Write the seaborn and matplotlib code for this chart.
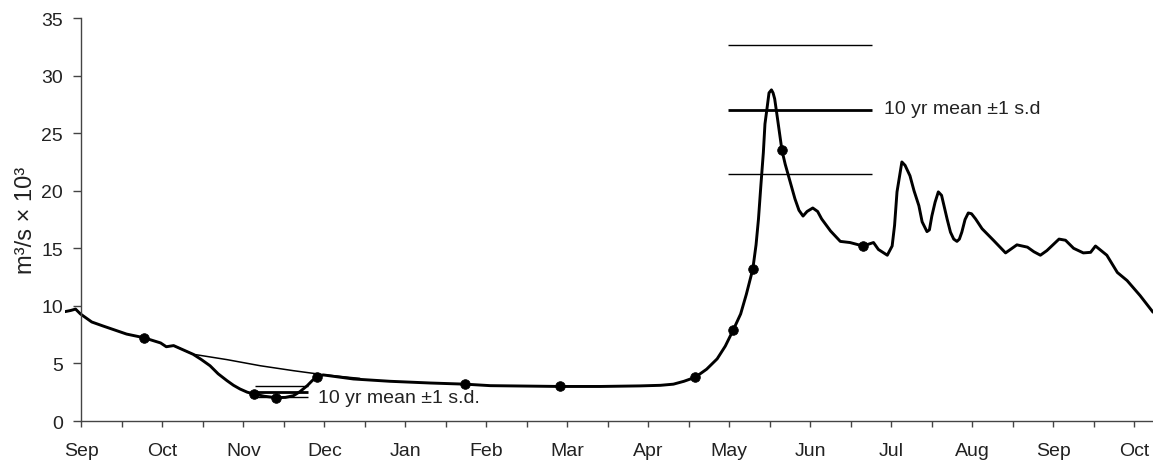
import matplotlib
matplotlib.use("Agg")
import matplotlib.pyplot as plt
import seaborn as sns
import numpy as np
import pandas as pd

# month index: 0 = Sep, 1 = Oct, ... 13 = Oct of the next year
months = [-0.20, -0.13, -0.07, -0.01, 0.13, 0.27, 0.56, 0.77, 0.98, 1.05, 1.14,
          1.38, 1.48, 1.59, 1.69, 1.80, 1.88, 1.96, 2.05, 2.13, 2.26, 2.40, 2.52,
          2.62, 2.70, 2.79, 2.85, 2.91, 2.99, 3.36, 3.81, 4.31, 4.74, 5.05, 5.91,
          6.41, 6.90, 7.15, 7.31, 7.44, 7.58, 7.72, 7.85, 7.95, 8.05, 8.14, 8.21,
          8.29, 8.33, 8.36, 8.39, 8.42, 8.44, 8.47, 8.49, 8.52, 8.54, 8.56, 8.59,
          8.65, 8.69, 8.73, 8.81, 8.86, 8.91, 8.96, 9.03, 9.09, 9.14, 9.25, 9.37,
          9.49, 9.65, 9.78, 9.84, 9.95, 10.01, 10.04, 10.07, 10.13, 10.17, 10.23,
          10.28, 10.34, 10.38, 10.44, 10.47, 10.50, 10.54, 10.58, 10.62, 10.65,
          10.69, 10.73, 10.77, 10.81, 10.84, 10.87, 10.91, 10.95, 10.99, 11.04,
          11.12, 11.26, 11.41, 11.55, 11.68, 11.76, 11.84, 11.92, 12.07, 12.15,
          12.25, 12.37, 12.46, 12.52, 12.66, 12.79, 12.91, 13.07, 13.23]
flow = [9.50, 9.60, 9.72, 9.30, 8.60, 8.25, 7.55, 7.24, 6.78, 6.45, 6.55,
        5.80, 5.35, 4.80, 4.10, 3.50, 3.10, 2.78, 2.50, 2.35, 2.15, 2.03, 2.05,
        2.20, 2.55, 3.07, 3.50, 3.85, 4.00, 3.65, 3.45, 3.30, 3.20, 3.07, 3.00,
        3.00, 3.05, 3.10, 3.20, 3.45, 3.80, 4.50, 5.40, 6.50, 7.93, 9.30, 11.00,
        13.20, 15.30, 17.55, 20.50, 23.30, 25.80, 27.40, 28.50, 28.76, 28.50, 27.98, 26.50,
        23.50, 22.30, 21.30, 19.30, 18.30, 17.80, 18.20, 18.50, 18.20, 17.55, 16.50, 15.60,
        15.50, 15.20, 15.50, 14.90, 14.40, 15.20, 17.00, 19.90, 22.50, 22.20, 21.30,
        20.00, 18.70, 17.30, 16.45, 16.60, 17.80, 19.00, 19.90, 19.60, 18.70,
        17.50, 16.40, 15.80, 15.60, 15.80, 16.40, 17.50, 18.07, 18.00, 17.55,
        16.70, 15.70, 14.60, 15.30, 15.10, 14.70, 14.40, 14.80, 15.80, 15.70,
        15.00, 14.60, 14.65, 15.20, 14.40, 12.90, 12.20, 10.90, 9.45]

# long-term curve where it departs from the year's curve
mean_months = [1.14, 1.38, 1.80, 2.21, 2.62, 2.99, 3.44]
mean_flow = [6.55, 5.80, 5.33, 4.80, 4.37, 4.02, 3.70]

# sampling dates
dot_months = [0.77, 2.13, 2.40, 2.91, 4.74, 5.91, 7.58, 8.05, 8.29, 8.65, 9.65]
dot_flow = [7.24, 2.35, 2.03, 3.85, 3.20, 3.00, 3.80, 7.93, 13.20, 23.50, 15.20]

# 10 yr mean +/- 1 s.d. (low flow and high flow)
low_band = [3.05, 2.55, 2.05]
low_span = (2.14, 2.80)
high_band = [32.65, 27.05, 21.45]
high_span = (7.98, 9.76)

month_labels = ["Sep", "Oct", "Nov", "Dec", "Jan", "Feb", "Mar", "Apr",
                "May", "Jun", "Jul", "Aug", "Sep", "Oct"]

sns.set_style("ticks")
plt.rcParams["font.family"] = ["Liberation Sans", "DejaVu Sans"]

fig = plt.figure(figsize=(11.53, 4.64), dpi=100)
ax = fig.add_axes([0.0564, 0.0905, 0.9436, 0.8685])

df = pd.DataFrame({"month": months, "flow": flow})
sns.lineplot(data=df, x="month", y="flow", color="black", linewidth=2.1,
             estimator=None, ax=ax, solid_joinstyle="round",
             solid_capstyle="round")
sns.lineplot(x=mean_months, y=mean_flow, color="black", linewidth=1.1,
             estimator=None, ax=ax, solid_joinstyle="round")
sns.scatterplot(x=dot_months, y=dot_flow, color="black", s=48,
                edgecolor="black", zorder=5, ax=ax)

for band, span in [(low_band, low_span), (high_band, high_span)]:
    ax.hlines(band, span[0], span[1], colors="black",
              linewidths=[1.0, 2.0, 1.0])

ax.text(2.92, 2.06, "10 yr mean \u00b11 s.d.", fontsize=14, va="center",
        ha="left", color="#222222")
ax.text(9.91, 27.17, "10 yr mean \u00b11 s.d", fontsize=14, va="center",
        ha="left", color="#222222")

ax.set_xlim(-0.20, 13.23)
ax.set_ylim(0, 35)
ax.spines["left"].set_position(("data", 0))
ax.spines["bottom"].set_bounds(0, 13.23)
ax.spines["top"].set_visible(False)
ax.spines["right"].set_visible(False)
for s in ["left", "bottom"]:
    ax.spines[s].set_color("#444444")
    ax.spines[s].set_linewidth(1.0)

ax.set_xticks(np.arange(0, 14))
ax.set_xticklabels(month_labels)
ax.set_xticks(np.arange(0.5, 13.5, 1.0), minor=True)
ax.set_yticks(np.arange(0, 36, 5))
ax.tick_params(axis="x", which="both", direction="out", length=4, width=1.0,
               color="#444444", pad=11, labelsize=14, labelcolor="#222222")
ax.tick_params(axis="y", direction="out", length=6, width=1.0,
               color="#444444", pad=7, labelsize=14, labelcolor="#222222")

ax.set_xlabel("")
ax.set_ylabel("m\u00b3/s \u00d7 10\u00b3", fontsize=17, color="#222222",
              labelpad=3)

fig.savefig("out.png", dpi=100)
